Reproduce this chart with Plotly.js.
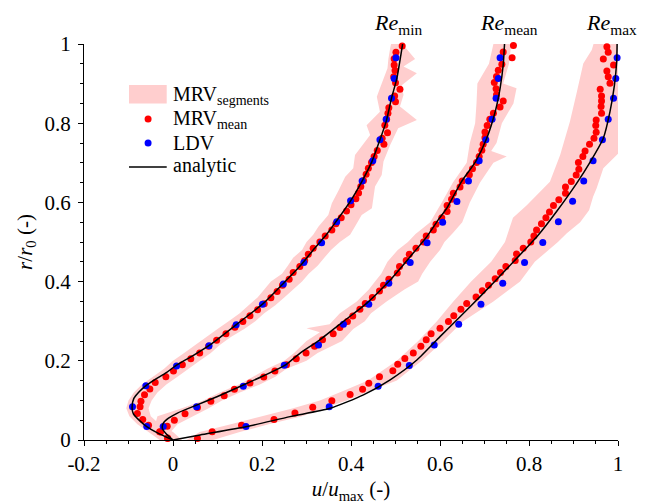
<!DOCTYPE html>
<html>
<head>
<meta charset="utf-8">
<script src="https://cdn.plot.ly/plotly-3.0.1.min.js"></script>
<style>html,body{margin:0;padding:0;background:#fff;}#chart{width:646px;height:504px;}</style>
</head>
<body>
<div id="chart"></div>
<script>
// ---------- analytic profiles ----------
const reMinCurveU = [0, -0.035, -0.059, -0.078, -0.089, -0.092, -0.088, -0.076, -0.060, -0.040, -0.015, 0.008, 0.045, 0.083, 0.143, 0.203, 0.252, 0.290, 0.315, 0.345, 0.366, 0.398, 0.424, 0.447, 0.465, 0.479, 0.491, 0.503, 0.512, 0.516];
const reMinCurveR = [0, 0.018, 0.034, 0.052, 0.066, 0.082, 0.105, 0.122, 0.138, 0.153, 0.170, 0.189, 0.213, 0.240, 0.292, 0.345, 0.400, 0.445, 0.480, 0.519, 0.551, 0.602, 0.652, 0.703, 0.758, 0.804, 0.863, 0.913, 0.972, 1.0];
const reMeanCurveU = [0, -0.015, -0.024, -0.022, -0.010, 0.010, 0.053, 0.100, 0.158, 0.205, 0.252, 0.285, 0.330, 0.387, 0.435, 0.488, 0.533, 0.570, 0.596, 0.615, 0.648, 0.680, 0.705, 0.724, 0.735, 0.742, 0.745];
const reMeanCurveR = [0, 0.015, 0.030, 0.042, 0.055, 0.068, 0.088, 0.110, 0.139, 0.163, 0.189, 0.219, 0.253, 0.303, 0.345, 0.404, 0.463, 0.513, 0.556, 0.585, 0.652, 0.703, 0.762, 0.829, 0.888, 0.947, 1.0];
const reMaxCurveU = [0, 0.061, 0.166, 0.263, 0.353, 0.428, 0.488, 0.548, 0.600, 0.645, 0.690, 0.765, 0.819, 0.862, 0.907, 0.938, 0.967, 0.982, 0.992, 0.997, 0.998];
const reMaxCurveR = [0, 0.0126, 0.034, 0.059, 0.080, 0.114, 0.152, 0.202, 0.261, 0.311, 0.362, 0.450, 0.515, 0.577, 0.648, 0.703, 0.762, 0.829, 0.896, 0.955, 1.0];

// ---------- MRV mean (red) ----------
const reMinRedU = [-0.012,-0.030,-0.055,-0.068,-0.080,-0.074,-0.072,-0.064,-0.052,-0.040,-0.016,0.001,0.021,0.040,0.060,0.080,0.098,0.119,0.139,0.157,0.173,0.190,0.205,0.220,0.234,0.246,0.261,0.270,0.285,0.296,0.304,0.315,0.330,0.342,0.357,0.366,0.378,0.390,0.400,0.411,0.417,0.422,0.428,0.434,0.439,0.446,0.452,0.459,0.474,0.470,0.482,0.476,0.480,0.483,0.485,0.500,0.498,0.510,0.500,0.496,0.499,0.497,0.497,0.501,0.515];
const reMinRedR = [0.004,0.021,0.037,0.052,0.067,0.084,0.098,0.114,0.129,0.145,0.160,0.174,0.190,0.205,0.220,0.237,0.252,0.268,0.285,0.299,0.314,0.329,0.344,0.359,0.375,0.391,0.406,0.423,0.438,0.453,0.469,0.484,0.500,0.515,0.530,0.546,0.561,0.578,0.594,0.609,0.624,0.640,0.655,0.671,0.686,0.701,0.716,0.731,0.747,0.762,0.776,0.795,0.810,0.825,0.839,0.854,0.869,0.886,0.902,0.917,0.933,0.947,0.963,0.979,0.995];
const reMeanRedU = [-0.012,-0.028,-0.013,0.003,0.027,0.055,0.085,0.115,0.138,0.173,0.204,0.229,0.255,0.277,0.299,0.318,0.336,0.360,0.375,0.392,0.404,0.420,0.432,0.448,0.464,0.473,0.485,0.504,0.509,0.524,0.531,0.546,0.563,0.569,0.585,0.591,0.604,0.616,0.616,0.626,0.630,0.645,0.650,0.666,0.673,0.682,0.688,0.694,0.697,0.701,0.701,0.706,0.712,0.720,0.735,0.742,0.727,0.726,0.722,0.727,0.731,0.739,0.762,0.742,0.765];
const reMeanRedR = [0.005,0.020,0.035,0.050,0.066,0.082,0.098,0.112,0.128,0.144,0.159,0.174,0.190,0.205,0.220,0.237,0.253,0.268,0.284,0.299,0.313,0.330,0.345,0.360,0.376,0.391,0.406,0.422,0.438,0.453,0.469,0.484,0.500,0.515,0.530,0.545,0.561,0.577,0.592,0.608,0.623,0.639,0.654,0.670,0.685,0.701,0.716,0.732,0.747,0.763,0.778,0.794,0.810,0.825,0.841,0.856,0.872,0.887,0.903,0.918,0.934,0.949,0.965,0.980,0.996];
const reMaxRedU = [0.055,0.088,0.154,0.227,0.274,0.314,0.357,0.398,0.426,0.440,0.464,0.494,0.505,0.521,0.540,0.557,0.569,0.580,0.600,0.619,0.631,0.647,0.660,0.681,0.695,0.709,0.724,0.736,0.748,0.769,0.772,0.787,0.804,0.811,0.817,0.828,0.838,0.846,0.855,0.867,0.882,0.882,0.895,0.906,0.912,0.911,0.921,0.926,0.936,0.946,0.951,0.950,0.951,0.963,0.962,0.963,0.963,0.960,0.982,0.978,0.975,0.990,0.967,0.978,0.975];
const reMaxRedR = [0.004,0.021,0.037,0.052,0.068,0.083,0.099,0.115,0.128,0.143,0.160,0.175,0.191,0.206,0.220,0.237,0.253,0.268,0.282,0.299,0.314,0.330,0.345,0.361,0.377,0.391,0.407,0.423,0.438,0.453,0.470,0.484,0.500,0.515,0.530,0.546,0.561,0.576,0.592,0.607,0.623,0.639,0.653,0.669,0.684,0.701,0.716,0.730,0.747,0.762,0.777,0.794,0.808,0.825,0.842,0.856,0.869,0.886,0.901,0.917,0.932,0.947,0.962,0.979,0.993];

// ---------- LDV (blue) ----------
const reMinBlueU = [-0.059,-0.091,-0.061,0.008,0.081,0.142,0.201,0.248,0.294,0.334,0.368,0.399,0.425,0.449,0.465,0.479,0.491,0.497,0.501];
const reMinBlueR = [0.034,0.084,0.137,0.187,0.238,0.291,0.343,0.394,0.448,0.498,0.551,0.604,0.654,0.705,0.758,0.810,0.863,0.913,0.965];
const reMeanBlueU = [-0.022,0.053,0.158,0.250,0.327,0.383,0.440,0.485,0.533,0.571,0.606,0.638,0.664,0.688,0.703,0.717,0.726,0.731,0.735];
const reMeanBlueR = [0.034,0.084,0.136,0.189,0.240,0.292,0.343,0.396,0.448,0.498,0.550,0.602,0.654,0.705,0.758,0.810,0.863,0.913,0.965];
const reMaxBlueU = [0.164,0.351,0.461,0.531,0.587,0.642,0.692,0.741,0.790,0.831,0.866,0.898,0.923,0.944,0.965,0.978,0.990,0.995,0.998];
const reMaxBlueR = [0.034,0.084,0.136,0.188,0.240,0.292,0.343,0.396,0.448,0.499,0.551,0.603,0.654,0.705,0.758,0.810,0.863,0.913,0.965];

// ---------- MRV segments envelope (left / right edges) ----------
const reMinBandLeftU = [-0.030,-0.055,-0.080,-0.098,-0.105,-0.100,-0.088,-0.070,-0.045,-0.020,0.000,0.025,0.050,0.075,0.100,0.125,0.150,0.170,0.190,0.205,0.220,0.245,0.258,0.270,0.290,0.300,0.315,0.327,0.349,0.357,0.372,0.387,0.405,0.409,0.443,0.435,0.465,0.458,0.465,0.482,0.484,0.488,0.490];
const reMinBandLeftR = [0.00,0.02,0.04,0.06,0.08,0.10,0.12,0.14,0.16,0.18,0.20,0.22,0.24,0.26,0.28,0.30,0.32,0.34,0.36,0.38,0.40,0.42,0.44,0.46,0.48,0.50,0.518,0.539,0.568,0.598,0.630,0.665,0.686,0.720,0.770,0.795,0.829,0.867,0.888,0.939,0.962,0.989,1.0];
const reMinBandRightU = [0.020,0.000,-0.030,-0.050,-0.055,-0.048,-0.035,-0.015,0.010,0.035,0.060,0.085,0.105,0.130,0.160,0.185,0.205,0.230,0.250,0.270,0.290,0.305,0.325,0.340,0.355,0.375,0.398,0.409,0.424,0.447,0.454,0.469,0.473,0.488,0.506,0.548,0.510,0.518,0.514,0.548,0.518,0.544,0.518,0.518];
const reMinBandRightR = [0.00,0.02,0.04,0.06,0.08,0.10,0.12,0.14,0.16,0.18,0.20,0.22,0.24,0.26,0.28,0.30,0.32,0.34,0.36,0.38,0.40,0.42,0.44,0.46,0.48,0.50,0.518,0.539,0.568,0.585,0.640,0.669,0.703,0.745,0.787,0.808,0.842,0.871,0.896,0.926,0.943,0.962,0.997,1.0];
const reMeanBandLeftU = [-0.025,-0.045,-0.040,-0.035,0.020,0.068,0.105,0.148,0.180,0.212,0.250,0.272,0.300,0.330,0.300,0.352,0.375,0.413,0.440,0.454,0.468,0.482,0.505,0.528,0.545,0.578,0.604,0.629,0.660,0.667,0.679,0.682,0.684,0.710,0.720];
const reMeanBandLeftR = [0.00,0.02,0.04,0.06,0.08,0.10,0.12,0.14,0.16,0.18,0.20,0.22,0.25,0.272,0.282,0.292,0.32,0.35,0.38,0.40,0.42,0.45,0.48,0.50,0.52,0.55,0.60,0.65,0.70,0.75,0.80,0.85,0.90,0.95,1.0];
const reMeanBandRightU = [0.005,-0.005,0.010,0.045,0.080,0.110,0.150,0.195,0.230,0.255,0.300,0.325,0.380,0.405,0.431,0.445,0.480,0.520,0.551,0.560,0.578,0.600,0.610,0.629,0.650,0.667,0.690,0.720,0.750,0.715,0.727,0.739,0.765,0.772,0.742,0.755,0.760];
const reMeanBandRightR = [0.00,0.02,0.04,0.06,0.08,0.10,0.12,0.14,0.16,0.18,0.20,0.22,0.25,0.28,0.30,0.32,0.35,0.38,0.40,0.42,0.45,0.48,0.50,0.523,0.55,0.60,0.65,0.70,0.716,0.73,0.75,0.80,0.85,0.888,0.90,0.95,1.0];
const reMaxBandLeftU = [0.030,0.060,0.130,0.200,0.270,0.330,0.385,0.438,0.470,0.503,0.551,0.593,0.630,0.670,0.715,0.746,0.764,0.795,0.847,0.870,0.892,0.907,0.922,0.941,0.945];
const reMaxBandLeftR = [0.00,0.02,0.04,0.06,0.08,0.10,0.125,0.15,0.175,0.20,0.25,0.30,0.35,0.40,0.45,0.50,0.561,0.593,0.652,0.72,0.804,0.876,0.951,0.985,1.0];
const reMaxBandRightU = [0.090,0.150,0.215,0.290,0.340,0.390,0.445,0.503,0.530,0.559,0.607,0.652,0.720,0.780,0.813,0.865,0.885,0.915,0.935,0.944,0.952,0.967,1.02,1.02];
const reMaxBandRightR = [0.00,0.02,0.04,0.06,0.08,0.10,0.125,0.15,0.175,0.20,0.25,0.30,0.35,0.40,0.45,0.50,0.522,0.55,0.58,0.614,0.636,0.686,0.745,1.0];

// ---------- axes / labels ----------
const xTickVals = [-0.2, 0, 0.2, 0.4, 0.6, 0.8, 1];
const xTickText = ['-0.2', '0', '0.2', '0.4', '0.6', '0.8', '1'];
const yTickVals = [0, 0.2, 0.4, 0.6, 0.8, 1];
const yTickText = ['0', '0.2', '0.4', '0.6', '0.8', '1'];
const profileLabels = ['<i>Re</i><sub>min</sub>', '<i>Re</i><sub>mean</sub>', '<i>Re</i><sub>max</sub>'];
const profileLabelU = [0.505, 0.755, 0.985];
const legendLabels = ['MRV<sub>segments</sub>', 'MRV<sub>mean</sub>', 'LDV', 'analytic'];

const PINK = 'rgb(255,206,206)';
const RED = '#ff0000';
const BLUE = '#0000ff';
const FONT = 'Liberation Serif, Times New Roman, serif';

function band(lu, lr, ru, rr) {
  const x = lu.concat(ru.slice().reverse());
  const y = lr.concat(rr.slice().reverse());
  return {type: 'scatter', mode: 'none', x: x, y: y, fill: 'toself', fillcolor: PINK,
          hoverinfo: 'skip', showlegend: false};
}
function pts(u, r, color) {
  return {type: 'scatter', mode: 'markers', x: u, y: r, cliponaxis: false,
          marker: {color: color, size: 7, line: {width: 0}}, showlegend: false};
}
function curve(u, r) {
  return {type: 'scatter', mode: 'lines', x: u, y: r,
          line: {color: '#000', width: 1.5, shape: 'spline', smoothing: 0.6}, showlegend: false};
}

const traces = [
  band(reMinBandLeftU, reMinBandLeftR, reMinBandRightU, reMinBandRightR),
  band(reMeanBandLeftU, reMeanBandLeftR, reMeanBandRightU, reMeanBandRightR),
  band(reMaxBandLeftU, reMaxBandLeftR, reMaxBandRightU, reMaxBandRightR),
  pts(reMinRedU, reMinRedR, RED),
  pts(reMeanRedU, reMeanRedR, RED),
  pts(reMaxRedU, reMaxRedR, RED),
  pts(reMinBlueU, reMinBlueR, BLUE),
  pts(reMeanBlueU, reMeanBlueR, BLUE),
  pts(reMaxBlueU, reMaxBlueR, BLUE),
  curve(reMinCurveU, reMinCurveR),
  curve(reMeanCurveU, reMeanCurveR),
  curve(reMaxCurveU, reMaxCurveR)
];

// manual legend (paper coordinates)
const legX0 = 0.0843, legX1 = 0.1549, legTextX = 0.1629;
const legRowY = [0.8687, 0.8106, 0.7504, 0.6920];
const shapes = [
  {type: 'rect', xref: 'paper', yref: 'paper', x0: legX0, x1: legX1, y0: 0.850, y1: 0.8965,
   fillcolor: PINK, line: {width: 0}},
  {type: 'circle', xref: 'paper', yref: 'paper', xsizemode: 'pixel', ysizemode: 'pixel',
   xanchor: 0.12, yanchor: 0.8106, x0: -3.5, x1: 3.5, y0: -3.5, y1: 3.5, fillcolor: RED, line: {width: 0}},
  {type: 'circle', xref: 'paper', yref: 'paper', xsizemode: 'pixel', ysizemode: 'pixel',
   xanchor: 0.12, yanchor: 0.75, x0: -3.5, x1: 3.5, y0: -3.5, y1: 3.5, fillcolor: BLUE, line: {width: 0}},
  {type: 'line', xref: 'paper', yref: 'paper', x0: legX0, x1: legX1, y0: 0.6894, y1: 0.6894,
   line: {color: '#000', width: 1.6}}
];
const annotations = [];
for (let i = 0; i < legendLabels.length; i++) {
  annotations.push({xref: 'paper', yref: 'paper', x: legTextX, y: legRowY[i], xanchor: 'left', yanchor: 'middle',
    text: legendLabels[i], showarrow: false, font: {family: FONT, size: 20, color: '#000'}});
}
for (let i = 0; i < profileLabels.length; i++) {
  annotations.push({xref: 'x', yref: 'paper', x: profileLabelU[i], y: 1.05, xanchor: 'center', yanchor: 'middle',
    text: profileLabels[i], showarrow: false, font: {family: FONT, size: 22, color: '#000'}});
}

const axisCommon = {
  showgrid: false, zeroline: false, showline: true, linecolor: '#000', linewidth: 1,
  ticks: 'outside', ticklen: 5, tickwidth: 1, tickcolor: '#000', tickmode: 'array',
  tickfont: {family: FONT, size: 21, color: '#000'}, automargin: false, fixedrange: true,
  minor: {tickmode: 'linear', tick0: 0, dtick: 0.05, ticks: 'outside', ticklen: 3, tickwidth: 1, tickcolor: '#000', showgrid: false}
};

const layout = {
  width: 646, height: 504,
  margin: {l: 84, r: 28, t: 44, b: 64},
  paper_bgcolor: '#fff', plot_bgcolor: '#fff',
  showlegend: false,
  font: {family: FONT, size: 20, color: '#000'},
  xaxis: Object.assign({}, axisCommon, {
    range: [-0.2, 1], tickvals: xTickVals, ticktext: xTickText,
    title: {text: '<i>u</i>/<i>u</i><sub>max</sub> (-)', font: {family: FONT, size: 21, color: '#000'}, standoff: 6}
  }),
  yaxis: Object.assign({}, axisCommon, {
    range: [0, 1], tickvals: yTickVals, ticktext: yTickText, ticklabelstandoff: 3,
    title: {text: '<i>r</i>/<i>r</i><sub>0</sub> (-)', font: {family: FONT, size: 21, color: '#000'}, standoff: 6}
  }),
  shapes: shapes,
  annotations: annotations
};

Plotly.newPlot('chart', traces, layout, {displayModeBar: false, staticPlot: true});
</script>
</body>
</html>
